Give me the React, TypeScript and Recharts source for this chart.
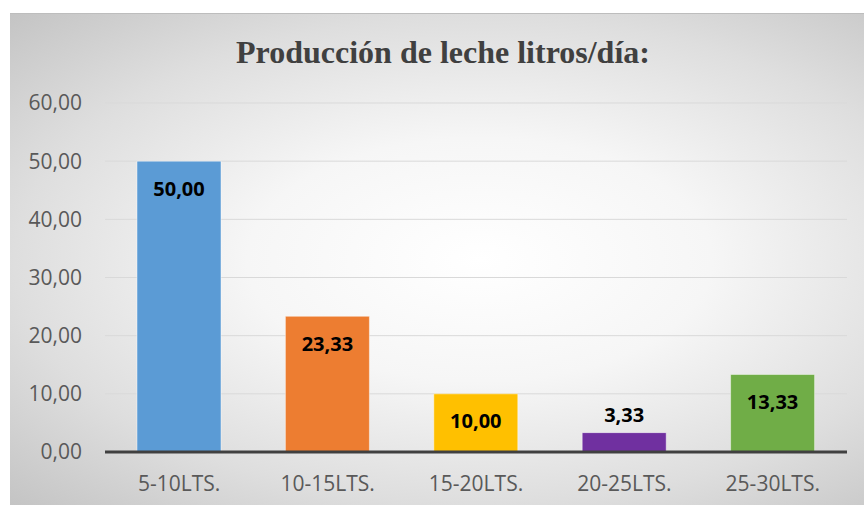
import { BarChart, Bar, XAxis, YAxis, CartesianGrid, Cell, LabelList } from 'recharts';

const categories = ['5-10LTS.', '10-15LTS.', '15-20LTS.', '20-25LTS.', '25-30LTS.'];
const values = [50.0, 23.33, 10.0, 3.33, 13.33];
const barColors = ['#5B9BD5', '#ED7D31', '#FFC000', '#7030A0', '#70AD47'];
const yTicks = [0, 10, 20, 30, 40, 50, 60];

const data = categories.map((name, i) => ({ name, value: values[i] }));

const fmt = (v: number) => v.toFixed(2).replace('.', ',');

const ValueLabel = (props: any) => {
  const { x, y, width, height, value } = props;
  const cx = x + width / 2;
  // Excel puts the label inside the bar end, or above it when the bar is too short
  const cy = height > 40 ? y + 27 : y - 18;
  return (
    <text
      x={cx}
      y={cy}
      textAnchor="middle"
      dominantBaseline="central"
      fill="#000000"
      fontFamily="'Open Sans', sans-serif"
      fontWeight={700}
      fontSize={20}
    >
      {fmt(value)}
    </text>
  );
};

const W = 854;
const H = 492;

const App = () => {
  return (
    <div
      style={{
        position: 'absolute',
        left: 10,
        top: 13,
        width: W,
        height: H,
        background:
          'radial-gradient(ellipse farthest-corner at 55% 50%, #ffffff 0%, #f6f6f6 35%, #dedede 70%, #c4c4c4 100%)',
        borderTop: '1px solid #bdbdbd',
        boxSizing: 'border-box',
      }}
    >
      <svg width={W} height={70} style={{ position: 'absolute', left: 0, top: 0 }}>
        <text
          x={433}
          y={49}
          textAnchor="middle"
          fill="#404040"
          fontFamily="'Liberation Serif', 'Times New Roman', serif"
          fontWeight={700}
          fontSize={32}
        >
          Producción de leche litros/día:
        </text>
      </svg>
      <BarChart
        width={W}
        height={H - 1}
        data={data}
        margin={{ top: 89, right: 17, left: 0, bottom: 0 }}
        style={{ position: 'absolute', left: 0, top: 0 }}
      >
        <CartesianGrid vertical={false} stroke="#d9d9d9" strokeWidth={1} />
        <XAxis
          dataKey="name"
          height={53}
          axisLine={{ stroke: '#404040', strokeWidth: 3 }}
          tickLine={false}
          tickSize={0}
          tickMargin={24}
          tick={{ fill: '#595959', fontSize: 21, fontFamily: "'Open Sans', sans-serif" }}
          interval={0}
        />
        <YAxis
          width={95}
          domain={[0, 60]}
          ticks={yTicks}
          axisLine={false}
          tickLine={false}
          tickSize={0}
          tickMargin={23}
          tickFormatter={fmt}
          tick={{ fill: '#595959', fontSize: 21, fontFamily: "'Open Sans', sans-serif" }}
        />
        <Bar dataKey="value" barSize={84} isAnimationActive={false} stroke="#ffffff" strokeOpacity={0.45} strokeWidth={1}>
          {data.map((d, i) => (
            <Cell key={d.name} fill={barColors[i]} />
          ))}
          <LabelList dataKey="value" content={ValueLabel} />
        </Bar>
      </BarChart>
    </div>
  );
};

export default App;
